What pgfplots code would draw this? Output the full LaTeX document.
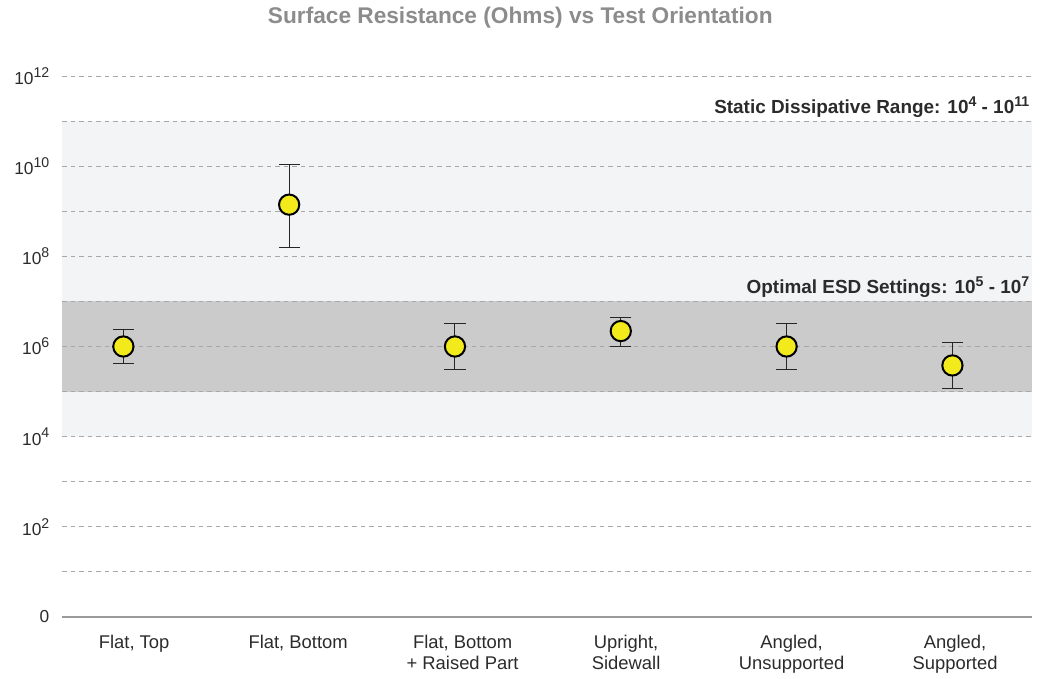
\documentclass[border=0pt]{standalone}
\usepackage{fontspec}
\setmainfont{Liberation Sans}
\usepackage{pgfplots}
\usepackage{pgfplotstable}
\pgfplotsset{compat=1.18}
\definecolor{lightband}{HTML}{F3F4F6}
\definecolor{darkband}{HTML}{CBCBCB}
\definecolor{gridc}{HTML}{A8A8A8}
\definecolor{titlec}{HTML}{8C8C8C}
\definecolor{ticktext}{HTML}{2B2B2B}
\definecolor{dotc}{HTML}{F2EA1A}
\definecolor{axisc}{HTML}{9A9A9A}
\newcommand{\sx}[1]{\raisebox{5.4pt}{\fontsize{10.6}{11}\selectfont #1}}
\newcommand{\sbx}[1]{\raisebox{5pt}{\fontsize{10.6}{11}\selectfont\bfseries #1}}

\pgfplotstableread{
x y
0 1.0e6
1 1.4e9
2 1.0e6
3 2.2e6
4 1.0e6
5 3.8e5
}\centers

\pgfplotstableread{
x y
0 4.1e5
0 2.4e6
nan nan
1 1.6e8
1 1.1e10
nan nan
2 3.1e5
2 3.2e6
nan nan
3 1.0e6
3 4.5e6
nan nan
4 3.1e5
4 3.2e6
nan nan
5 1.17e5
5 1.23e6
}\errs

\begin{document}
\begin{tikzpicture}
\path (0,0) rectangle (781.5pt,507.75pt);
\begin{axis}[
  set layers,
  at={(46.5pt,45pt)}, anchor=south west,
  scale only axis, width=727.5pt, height=405.75pt,
  ymode=log, ymin=1, ymax=1e12,
  xmin=-0.37, xmax=5.48,
  axis line style={draw=none},
  major tick length=0pt, minor tick length=0pt,
  ytick={1,1e1,1e2,1e3,1e4,1e5,1e6,1e7,1e8,1e9,1e10,1e11,1e12},
  yticklabels={0,,10\sx{2},,10\sx{4},,10\sx{6},,10\sx{8},,10\sx{10},,10\sx{12}},
  yminorticks=false,
  ymajorgrids,
  major grid style={gridc, line width=0.7pt, dash pattern=on 3.4pt off 3pt},
  xtick={0.065,1.054,2.046,3.032,4.030,5.016},
  xticklabels={{Flat, Top},{Flat, Bottom},{Flat, Bottom\\+ Raised Part},{Upright,\\Sidewall},{Angled,\\Unsupported},{Angled,\\Supported}},
  x tick label style={align=center, font=\fontsize{13.8}{16.2}\selectfont, text=ticktext, anchor=north, yshift=-10pt},
  y tick label style={font=\fontsize{13}{15}\selectfont, text=ticktext, xshift=-6pt},
  clip=false,
  unbounded coords=jump,
]
\begin{pgfonlayer}{axis background}
  \fill[lightband] (axis cs:-0.37,1e4) rectangle (axis cs:5.48,1e11);
  \fill[darkband] (axis cs:-0.37,1e5) rectangle (axis cs:5.48,1e7);
\end{pgfonlayer}
\draw[axisc, line width=0.9pt] (rel axis cs:0,0) -- (rel axis cs:1,0);
\node[anchor=base, font=\bfseries\fontsize{17}{19}\selectfont, text=titlec, inner sep=0pt] at (rel axis cs:0.4725,1) [yshift=39pt] {Surface Resistance (Ohms) vs Test Orientation};
\node[anchor=base east, font=\bfseries\fontsize{14.2}{16}\selectfont, text=ticktext, inner sep=0pt] at (axis cs:5.465,1.5e11) {Static Dissipative Range: 10\sbx{4} - 10\sbx{11}};
\node[anchor=base east, font=\bfseries\fontsize{14.2}{16}\selectfont, text=ticktext, inner sep=0pt] at (axis cs:5.465,1.5e7) {Optimal ESD Settings: 10\sbx{5} - 10\sbx{7}};
\addplot[black!85, line width=0.75pt, mark=-, mark size=7.9pt, mark options={line width=0.75pt}] table[x=x, y=y] {\errs};
\addplot[only marks, mark=*, mark size=7.6pt,
  mark options={fill=dotc, draw=black, line width=1.5pt}]
  table[x=x, y=y] {\centers};
\end{axis}
\end{tikzpicture}
\end{document}
